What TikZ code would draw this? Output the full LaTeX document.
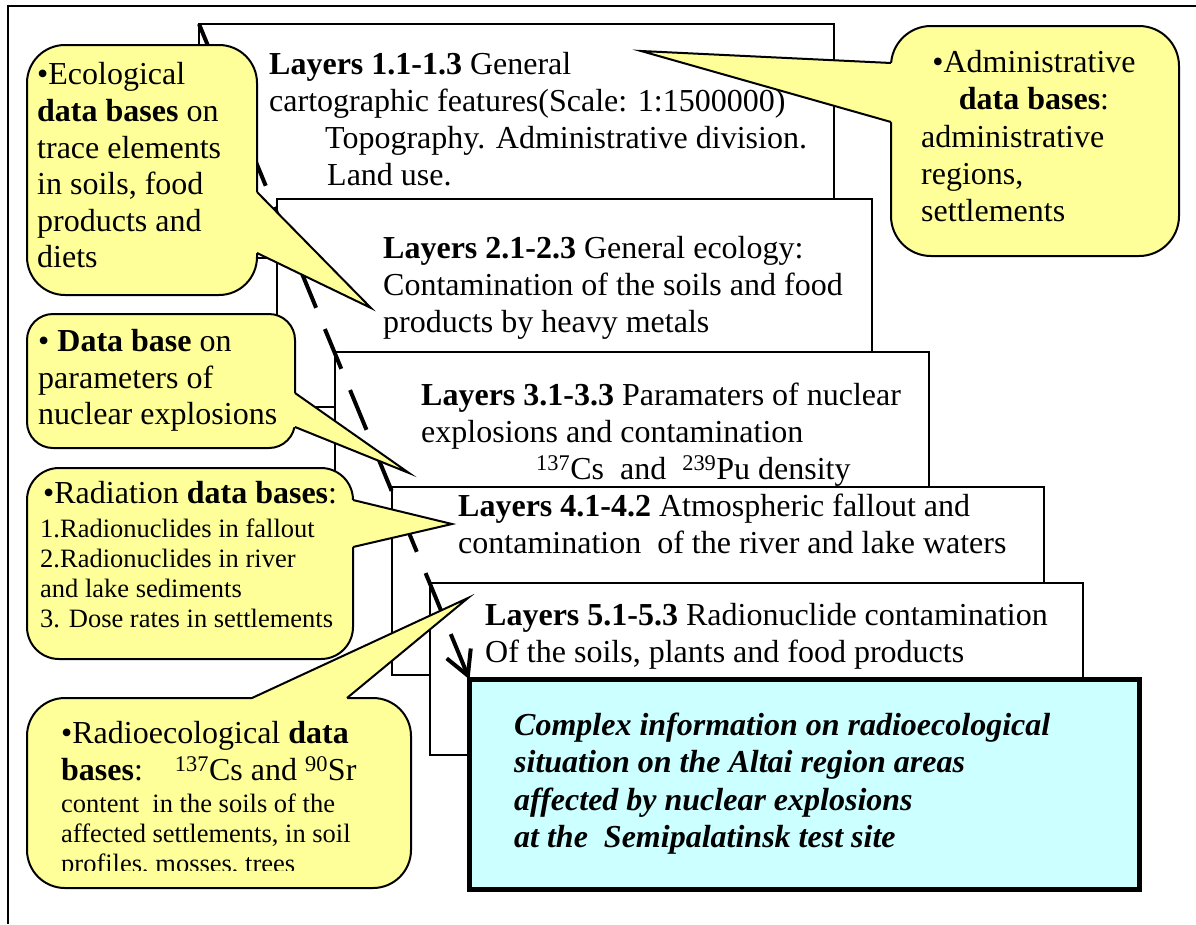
\documentclass[tikz,border=0pt]{standalone}
\usepackage{fontspec}
\setmainfont{Liberation Serif}
\usetikzlibrary{arrows.meta}
\definecolor{calloutyellow}{RGB}{255,255,153}
\definecolor{finalcyan}{RGB}{204,255,255}
\begin{document}
\begin{tikzpicture}[x=1pt,y=-1pt,
  layerbox/.style={draw=black, fill=white, line width=1.5pt, inner sep=0pt, outer sep=0pt, anchor=north west},
  finalbox/.style={draw=black, fill=finalcyan, line width=5pt, inner sep=0pt, outer sep=0pt, anchor=north west},
  callout/.style={draw=black, fill=calloutyellow, line width=2pt},
  wedgefill/.style={fill=calloutyellow},
  wedgeline/.style={draw=black, line width=2pt, line join=miter},
  big/.style={inner sep=0pt, anchor=north west, align=left, font=\fontsize{32}{37}\selectfont},
  small/.style={inner sep=0pt, anchor=north west, align=left, font=\fontsize{26.5}{30}\selectfont},
  flow/.style={line width=4pt, dash pattern=on 43pt off 23pt, -{Straight Barb[length=24pt,width=26pt]}},
]
\useasboundingbox (0,0) rectangle (1196,924);
% outer frame (only top and left edges visible)
\draw[line width=1.5pt] (8,924) -- (8,6) -- (1196,6);

% ---- layer boxes ----
\node[layerbox, minimum width=635pt, minimum height=234pt] (L1) at (199,24) {};
\node[big] (L1text) at (269,48.1) {\strut\textbf{Layers 1.1-1.3} General\\cartographic features(Scale: 1:1500000)\\\hspace*{56pt}Topography. Administrative division.\\\hspace*{58pt}Land use.};

\node[layerbox, minimum width=595pt, minimum height=208pt] (L2) at (277,199) {};
\node[big] (L2text) at (383,232.1) {\strut\textbf{Layers 2.1-2.3} General ecology:\\Contamination of the soils and food\\products by heavy metals};

\node[layerbox, minimum width=594pt, minimum height=168pt] (L3) at (335,352) {};
\node[big] (L3text) at (421,379.1) {\strut\textbf{Layers 3.1-3.3} Paramaters of nuclear\\explosions and contamination\\\hspace*{115pt}\textsuperscript{137}Cs\ \ and\ \ \textsuperscript{239}Pu density};

\node[layerbox, minimum width=652pt, minimum height=188pt] (L4) at (392,487) {};
\node[big] (L4text) at (458,490.1) {\strut\textbf{Layers 4.1-4.2} Atmospheric fallout and\\contamination\ \ of the river and lake waters};

\node[layerbox, minimum width=653pt, minimum height=172pt] (L5) at (430,583) {};
\node[big] (L5text) at (485,599.1) {\strut\textbf{Layers 5.1-5.3} Radionuclide contamination\\Of the soils, plants and food products};

\node[finalbox, minimum width=670pt, minimum height=210pt] (final) at (469.5,679.5) {};
\node[big, font=\fontsize{32}{37.3}\selectfont\bfseries\itshape] (finaltext) at (514,709.1) {\strut Complex information on radioecological\\situation on the Altai region areas\\affected by nuclear explosions\\at the\ \ Semipalatinsk test site};

% ---- dashed flow arrow ----
\draw[flow] (L1.north west) -- (final.north west);

% ---- callout: ecological ----
\draw[callout, rounded corners=38pt] (27,45) rectangle (257,295);
\fill[wedgefill] (252,192) -- (257,192) -- (371,308) -- (257,253) -- (252,253) -- cycle;
\draw[wedgeline] (257,192) -- (371,308) -- (257,253);
\node[big, font=\fontsize{32}{36.6}\selectfont] (ecotext) at (37,59.1) {\strut •Ecological\\\textbf{data bases} on\\trace elements\\in soils, food\\products and\\diets};

% ---- callout: data base on parameters ----
\draw[callout, rounded corners=26pt] (27,314) rectangle (295,448);
\fill[wedgefill] (290,393) -- (295,393) -- (409,473) -- (295,427) -- (290,427) -- cycle;
\draw[wedgeline] (295,393) -- (409,473) -- (295,427);
\node[big, font=\fontsize{32}{36.5}\selectfont] (dbtext) at (38,326.1) {\strut • \textbf{Data base} on\\parameters of\\nuclear explosions};

% ---- callout: radiation ----
\draw[callout, rounded corners=32pt] (27,468) rectangle (353,659);
\fill[wedgefill] (348,500) -- (353,500) -- (452,524) -- (353,547) -- (348,547) -- cycle;
\draw[wedgeline] (353,500) -- (452,524) -- (353,547);
\node[big] (radhead) at (43,477.1) {\strut •Radiation \textbf{data bases}:};
\node[small] (radlist) at (40,516) {\strut 1.Radionuclides in fallout\\2.Radionuclides in river\\and lake sediments\\3. Dose rates in settlements};

% ---- callout: radioecological ----
\draw[callout, rounded corners=38pt] (27,698) rectangle (411,888);
\fill[wedgefill] (252,703) -- (252,698) -- (468,598) -- (347,698) -- (347,703) -- cycle;
\draw[wedgeline] (252,698) -- (468,598) -- (347,698);
\node[big] (rehead) at (61,717.1) {\strut •Radioecological \textbf{data}\\\textbf{bases}:\hspace{32pt}\textsuperscript{137}Cs and \textsuperscript{90}Sr};
\begin{scope}
\clip (27,698) rectangle (411,870);
\node[small] (relist) at (61,791) {\strut content\ \ in the soils of the\\affected settlements, in soil\\profiles, mosses, trees};
\end{scope}

% ---- callout: administrative ----
\draw[callout, rounded corners=40pt] (891,26) rectangle (1179,256);
\fill[wedgefill] (896,63) -- (891,63) -- (641,51) -- (891,122) -- (896,122) -- cycle;
\draw[wedgeline] (891,63) -- (641,51) -- (891,122);
\node[big, anchor=north, align=center] (admhead) at (1034,46.1) {\strut •Administrative\\\textbf{data bases}:};
\node[big] (admlist) at (921,121.1) {\strut administrative\\regions,\\settlements};
\end{tikzpicture}
\end{document}
